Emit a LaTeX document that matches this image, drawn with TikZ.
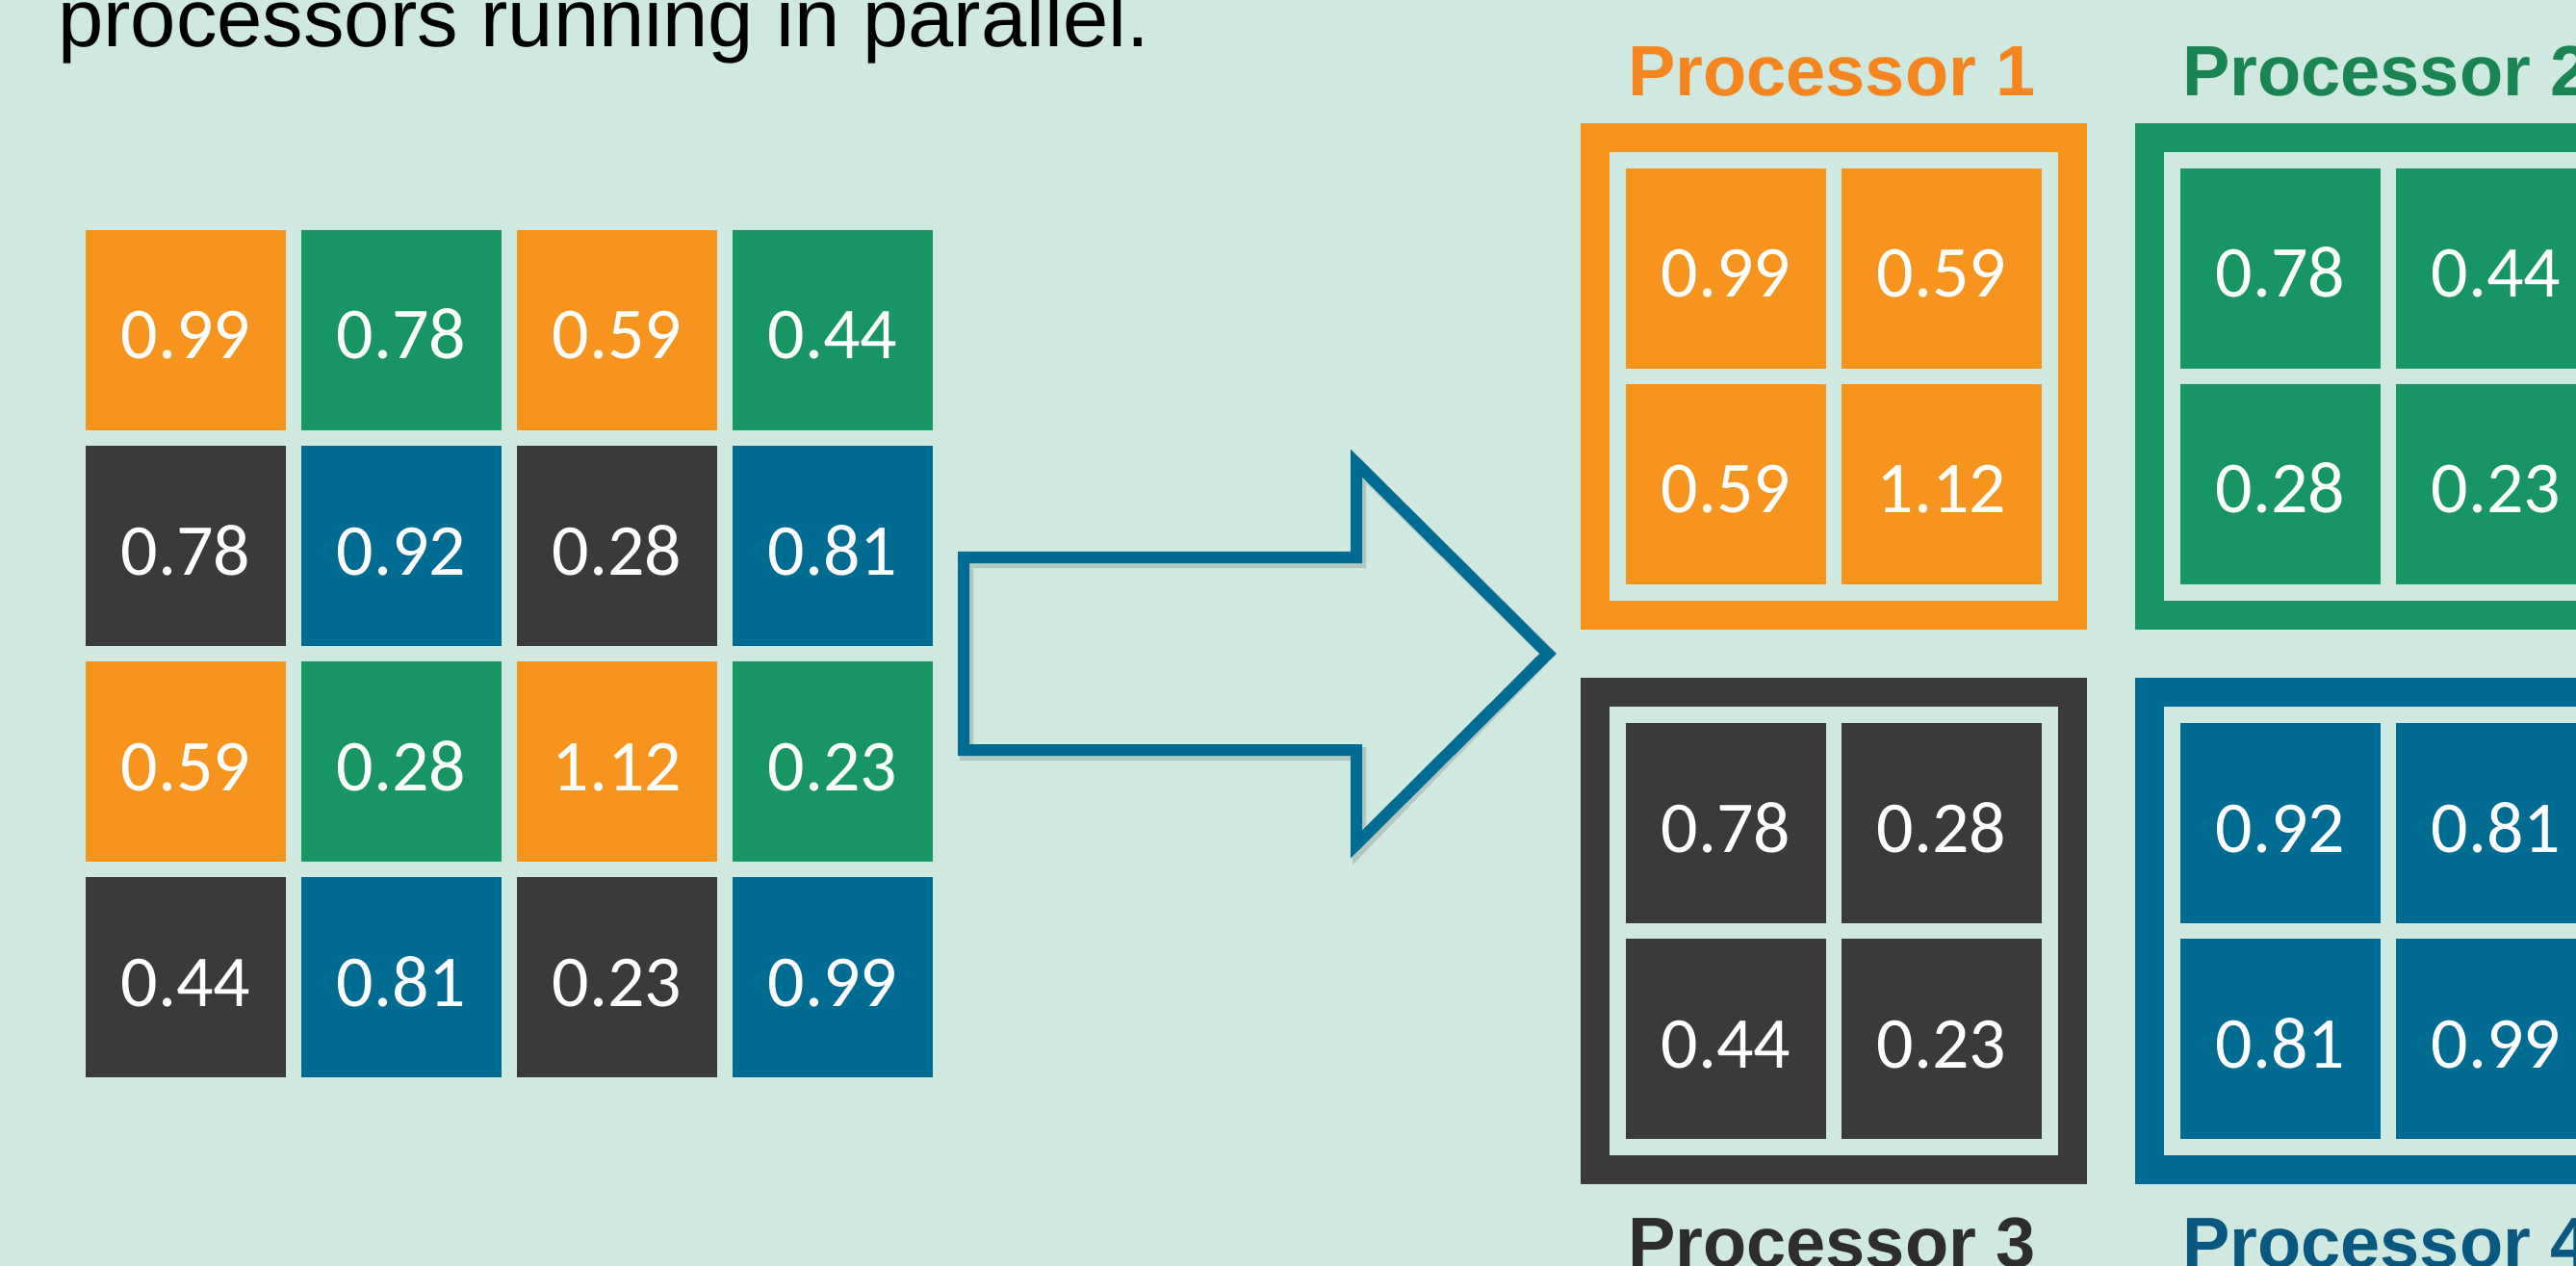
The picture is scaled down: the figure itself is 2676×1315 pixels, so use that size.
\documentclass[tikz,border=0pt]{standalone}
\usepackage{fontspec}
\setmainfont{Liberation Sans}
\newfontfamily\carlito{Carlito}
\definecolor{bg}{HTML}{CFE8E0}
\definecolor{cOrange}{HTML}{F7941E}
\definecolor{cGreen}{HTML}{179565}
\definecolor{cDark}{HTML}{3A3A3A}
\definecolor{cBlue}{HTML}{006C93}
\definecolor{lOrange}{HTML}{F5861F}
\definecolor{lGreen}{HTML}{1A8553}
\definecolor{lDark}{HTML}{2D2D2D}
\definecolor{lBlue}{HTML}{0A5880}
\begin{document}
\begin{tikzpicture}[x=0.5pt,y=-0.5pt,
  cell/.style={minimum width=104pt, minimum height=104pt, inner sep=0pt,
    outer sep=0pt, fill=#1, text=white,
    font=\carlito\fontsize{38}{38}\selectfont, text height=30pt, text depth=0pt},
  procframe/.style={draw=#1, line width=15pt, fill=bg, minimum width=248pt,
    minimum height=248pt, inner sep=0pt},
  proclabel/.style={text=#1, font=\bfseries\fontsize{37}{37}\selectfont,
    anchor=base, inner sep=0pt},
  blockarrow/.style={draw=cBlue, line width=6pt, line join=miter},
]
% canvas
\useasboundingbox (0,0) rectangle (2676,1315);
\fill[bg] (0,0) rectangle (2676,1315);
\clip (0,0) rectangle (2676,1315);

% heading line
\node[anchor=base west, inner sep=0pt, font=\fontsize{42.5}{42.5}\selectfont]
  (title) at (60,49) {processors running in parallel.};

% the full 4x4 matrix
\foreach \r/\c/\col/\v in {
  0/0/cOrange/0.99, 0/1/cGreen/0.78, 0/2/cOrange/0.59, 0/3/cGreen/0.44,
  1/0/cDark/0.78,   1/1/cBlue/0.92,  1/2/cDark/0.28,   1/3/cBlue/0.81,
  2/0/cOrange/0.59, 2/1/cGreen/0.28, 2/2/cOrange/1.12, 2/3/cGreen/0.23,
  3/0/cDark/0.44,   3/1/cBlue/0.81,  3/2/cDark/0.23,   3/3/cBlue/0.99}
  \node[cell=\col] (g\r\c) at ({193+224*\c},{343+224*\r}) {\v};

% block arrow between the matrix and the processors
\coordinate (tail) at (1001,679);
\coordinate (tip) at (1608,679);
\draw[black, opacity=0.14, line width=7pt, line join=miter, shift={(3,4)}]
  (1001,579) -- (1409,579) -- (1409,481) -- (tip) -- (1409,877)
  -- (1409,779) -- (1001,779) -- cycle;
\draw[blockarrow]
  (1001,579) -- (1409,579) -- (1409,481) -- (tip) -- (1409,877)
  -- (1409,779) -- (1001,779) -- cycle;

% processors with their 2x2 blocks
\foreach \n/\px/\py/\col/\a/\b/\c/\d in {
  1/1905/391/cOrange/0.99/0.59/0.59/1.12,
  2/2481/391/cGreen/0.78/0.44/0.28/0.23,
  3/1905/967/cDark/0.78/0.28/0.44/0.23,
  4/2481/967/cBlue/0.92/0.81/0.81/0.99} {
  \node[procframe=\col] (p\n) at (\px,\py) {};
  \node[cell=\col] (p\n-a) at ({\px-112},{\py-112}) {\a};
  \node[cell=\col] (p\n-b) at ({\px+112},{\py-112}) {\b};
  \node[cell=\col] (p\n-c) at ({\px-112},{\py+112}) {\c};
  \node[cell=\col] (p\n-d) at ({\px+112},{\py+112}) {\d};
}

% processor captions
\node[proclabel=lOrange] (lab1) at (1903,100) {Processor 1};
\node[proclabel=lGreen]  (lab2) at (2479,100) {Processor 2};
\node[proclabel=lDark]   (lab3) at (1903,1316) {Processor 3};
\node[proclabel=lBlue]   (lab4) at (2479,1316) {Processor 4};
\end{tikzpicture}
\end{document}
